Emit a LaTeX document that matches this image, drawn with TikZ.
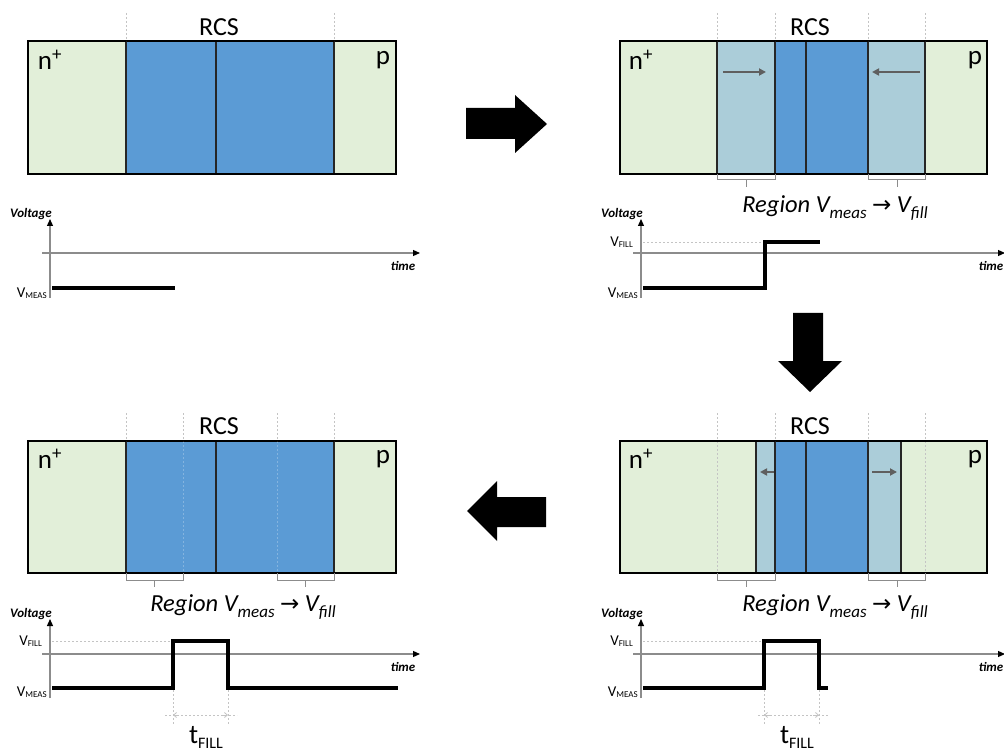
\documentclass[tikz,border=0pt]{standalone}
\usepackage{fontspec}
\setmainfont{Carlito}
\newfontfamily\arrowfont{DejaVu Sans}
\usetikzlibrary{arrows.meta}

\definecolor{pgreen}{HTML}{E2EFD9}
\definecolor{rcsblue}{HTML}{5B9BD5}
\definecolor{fillblue}{HTML}{ABCDD9}
\definecolor{guide}{HTML}{C4C4C4}
\definecolor{axisgray}{HTML}{8C8C8C}
\definecolor{markgray}{HTML}{5F5F5F}

% lowered / raised small text with explicit size
\newcommand{\shifttext}[3]{\raisebox{#1}{\fontsize{#2}{#2}\selectfont #3}}
\newcommand{\regiontext}{{\itshape Region V\shifttext{-6pt}{17}{meas} {\upshape\arrowfont\fontsize{23}{23}\selectfont →} V\shifttext{-6pt}{17}{fill}}}
\newcommand{\lvlmeas}{\fontsize{15}{15}\selectfont V\shifttext{-1pt}{9}{MEAS}}
\newcommand{\lvlfill}{\fontsize{15}{15}\selectfont V\shifttext{-1pt}{9}{FILL}}
\newcommand{\tfilllabel}{\fontsize{27}{27}\selectfont t\shifttext{-5pt}{16}{FILL}}

\tikzset{
  outline/.style={draw=black, line width=1.2pt},
  divider/.style={draw=black!85, line width=1.2pt},
  guideline/.style={draw=guide, line width=0.8pt, dash pattern=on 2pt off 2pt},
  faintguide/.style={draw=white, opacity=0.25, line width=0.8pt, dash pattern=on 2pt off 2pt},
  drift/.style={draw=markgray, line width=2pt, -{Triangle[length=7pt,width=7pt]}},
  bracketline/.style={draw=axisgray, line width=1pt},
  axisline/.style={draw=axisgray, line width=1.2pt, -{Triangle[length=7pt,width=6pt,color=black]}},
  signal/.style={draw=black, line width=3.5pt, line join=miter},
  dimline/.style={draw=guide, line width=0.8pt, dash pattern=on 2pt off 2pt},
  dimtip/.style={draw=guide, line width=0.8pt, -{Straight Barb[length=3pt,width=5pt]}},
  bigarrow/.style={fill=black},
  rcslabel/.style={inner sep=0pt, font=\fontsize{26}{30}\selectfont},
  biglabel/.style={inner sep=0pt, font=\fontsize{24.5}{28}\selectfont},
  sidelabel/.style={inner sep=0pt, font=\fontsize{27}{30}\selectfont},
  axislabel/.style={inner sep=0pt, font=\fontsize{13}{15}\selectfont\bfseries\itshape},
  levellabel/.style={inner sep=0pt, anchor=east},
}

\begin{document}
\begin{tikzpicture}[x=1pt,y=-1pt]
\useasboundingbox (0,0) rectangle (1004,751);

%% ---------- panel 1 (top left): equilibrium ----------
\fill[pgreen] (28,41) rectangle (396,174);
\fill[rcsblue] (126,41) rectangle (334,174);
\draw[divider] (126,41) -- (126,174) (216,41) -- (216,174) (334,41) -- (334,174);
\draw[outline] (28,41) rectangle (396,174);
\draw[guideline] (126,13) -- (126,41) (334,13) -- (334,41);
\node[rcslabel] (rcsA) at (219,27) {RCS};
\node[sidelabel] (nA) at (50,60) {n\textsuperscript{+}};
\node[sidelabel] (pA) at (383,60) {p};

\coordinate (oA) at (50,298);
\coordinate (yA) at (50,219);
\coordinate (xA0) at (42,253);
\coordinate (xA) at (420,253);
\draw[axisline] (oA) -- (yA);
\draw[axisline] (xA0) -- (xA);
\node[axislabel] (voltA) at (31,214) {Voltage};
\node[axislabel] (timeA) at (403,266) {time};
\node[levellabel] (vmA) at (47,293) {\lvlmeas};
\draw[signal] (52,288) -- (175,288);

%% ---------- panel 2 (top right): step to V_fill ----------
\fill[pgreen] (620,41) rectangle (987,174);
\fill[fillblue] (717,41) rectangle (775,174);
\fill[fillblue] (868,41) rectangle (925,174);
\fill[rcsblue] (775,41) rectangle (868,174);
\draw[divider] (717,41) -- (717,174) (775,41) -- (775,174) (806,41) -- (806,174)
               (868,41) -- (868,174) (925,41) -- (925,174);
\draw[outline] (620,41) rectangle (987,174);
\draw[guideline] (717,13) -- (717,41) (775,13) -- (775,41) (868,13) -- (868,41) (925,13) -- (925,41);
\node[rcslabel] (rcsB) at (810,27) {RCS};
\node[sidelabel] (nB) at (641,60) {n\textsuperscript{+}};
\node[sidelabel] (pB) at (975,60) {p};
\coordinate (dB1s) at (723,72); \coordinate (dB1e) at (766,72);
\coordinate (dB2s) at (920,72); \coordinate (dB2e) at (872,72);
\draw[drift] (dB1s) -- (dB1e);
\draw[drift] (dB2s) -- (dB2e);
\draw[bracketline] (717,174) -- (717,180) -- (775,180) -- (775,174) (746,180) -- (746,187);
\draw[bracketline] (868,174) -- (868,180) -- (925,180) -- (925,174) (897,180) -- (897,187);
\node[biglabel] (regB) at (835,208) {\regiontext};

\coordinate (oB) at (641,298);
\coordinate (yB) at (641,219);
\coordinate (xB0) at (633,253);
\coordinate (xB) at (1005,253);
\draw[axisline] (oB) -- (yB);
\draw[axisline] (xB0) -- (xB);
\node[axislabel] (voltB) at (622,214) {Voltage};
\node[axislabel] (timeB) at (991,266) {time};
\node[levellabel] (vfB) at (633,242) {\lvlfill};
\node[levellabel] (vmB) at (638,293) {\lvlmeas};
\draw[dimline] (643,242) -- (765,242);
\draw[signal] (643,288) -- (765,288) -- (765,242) -- (820,242);

%% ---------- panel 3 (bottom right): pulse ends, RCS re-emits ----------
\fill[pgreen] (620,441) rectangle (987,573);
\fill[fillblue] (756,441) rectangle (775,573);
\fill[fillblue] (868,441) rectangle (901,573);
\fill[rcsblue] (775,441) rectangle (868,573);
\draw[guideline] (717,413) -- (717,573) (925,413) -- (925,573);
\draw[divider] (756,441) -- (756,573) (775,441) -- (775,573) (806,441) -- (806,573)
               (868,441) -- (868,573) (901,441) -- (901,573);
\draw[outline] (620,441) rectangle (987,573);
\draw[guideline] (775,413) -- (775,441) (868,413) -- (868,441);
\node[rcslabel] (rcsC) at (810,426) {RCS};
\node[sidelabel] (nC) at (641,459) {n\textsuperscript{+}};
\node[sidelabel] (pC) at (975,459) {p};
\coordinate (dC1s) at (774,472); \coordinate (dC1e) at (760,472);
\coordinate (dC2s) at (872,472); \coordinate (dC2e) at (897,472);
\draw[drift] (dC1s) -- (dC1e);
\draw[drift] (dC2s) -- (dC2e);
\draw[bracketline] (717,573) -- (717,580) -- (775,580) -- (775,573) (746,580) -- (746,587);
\draw[bracketline] (868,573) -- (868,580) -- (925,580) -- (925,573) (897,580) -- (897,587);
\node[biglabel] (regC) at (835,607) {\regiontext};

\coordinate (oC) at (641,698);
\coordinate (yC) at (641,619);
\coordinate (xC0) at (633,654);
\coordinate (xC) at (1005,654);
\draw[axisline] (oC) -- (yC);
\draw[axisline] (xC0) -- (xC);
\node[axislabel] (voltC) at (622,614) {Voltage};
\node[axislabel] (timeC) at (991,667) {time};
\node[levellabel] (vfC) at (633,641) {\lvlfill};
\node[levellabel] (vmC) at (638,692) {\lvlmeas};
\draw[dimline] (643,641) -- (764,641);
\draw[dimline] (764,690) -- (764,725) (819,690) -- (819,725) (758,715) -- (828,715);
\draw[dimtip] (770,715) -- (764,715);
\draw[dimtip] (813,715) -- (819,715);
\draw[signal] (643,688) -- (764,688) -- (764,641) -- (819,641) -- (819,688) -- (828,688);
\node[inner sep=0pt] (tfC) at (797,737) {\tfilllabel};

%% ---------- panel 4 (bottom left): after the fill pulse ----------
\fill[pgreen] (28,441) rectangle (396,573);
\fill[rcsblue] (126,441) rectangle (334,573);
\draw[faintguide] (183,441) -- (183,573) (277,441) -- (277,573);
\draw[divider] (126,441) -- (126,573) (216,441) -- (216,573) (334,441) -- (334,573);
\draw[outline] (28,441) rectangle (396,573);
\draw[guideline] (126,413) -- (126,441) (183,413) -- (183,441) (277,413) -- (277,441) (334,413) -- (334,441);
\node[rcslabel] (rcsD) at (219,426) {RCS};
\node[sidelabel] (nD) at (50,459) {n\textsuperscript{+}};
\node[sidelabel] (pD) at (383,459) {p};
\draw[bracketline] (126,573) -- (126,580) -- (183,580) -- (183,573) (154,580) -- (154,587);
\draw[bracketline] (277,573) -- (277,580) -- (334,580) -- (334,573) (305,580) -- (305,587);
\node[biglabel] (regD) at (243,607) {\regiontext};

\coordinate (oD) at (50,698);
\coordinate (yD) at (50,619);
\coordinate (xD0) at (42,654);
\coordinate (xD) at (420,654);
\draw[axisline] (oD) -- (yD);
\draw[axisline] (xD0) -- (xD);
\node[axislabel] (voltD) at (31,614) {Voltage};
\node[axislabel] (timeD) at (403,667) {time};
\node[levellabel] (vfD) at (42,641) {\lvlfill};
\node[levellabel] (vmD) at (47,692) {\lvlmeas};
\draw[dimline] (52,641) -- (173,641);
\draw[dimline] (173,690) -- (173,725) (228,690) -- (228,725) (165,715) -- (237,715);
\draw[dimtip] (179,715) -- (173,715);
\draw[dimtip] (222,715) -- (228,715);
\draw[signal] (52,688) -- (173,688) -- (173,641) -- (228,641) -- (228,688) -- (398,688);
\node[inner sep=0pt] (tfD) at (206,737) {\tfilllabel};

%% ---------- sequence arrows ----------
\fill[bigarrow] (466,108) -- (515,108) -- (515,95) -- (547,124) -- (515,153) -- (515,139) -- (466,139) -- cycle;
\fill[bigarrow] (793,313) -- (823,313) -- (823,361) -- (842,361) -- (810,392) -- (778,361) -- (793,361) -- cycle;
\fill[bigarrow] (546,497) -- (497,497) -- (497,481) -- (467,511) -- (497,541) -- (497,527) -- (546,527) -- cycle;
\end{tikzpicture}
\end{document}
